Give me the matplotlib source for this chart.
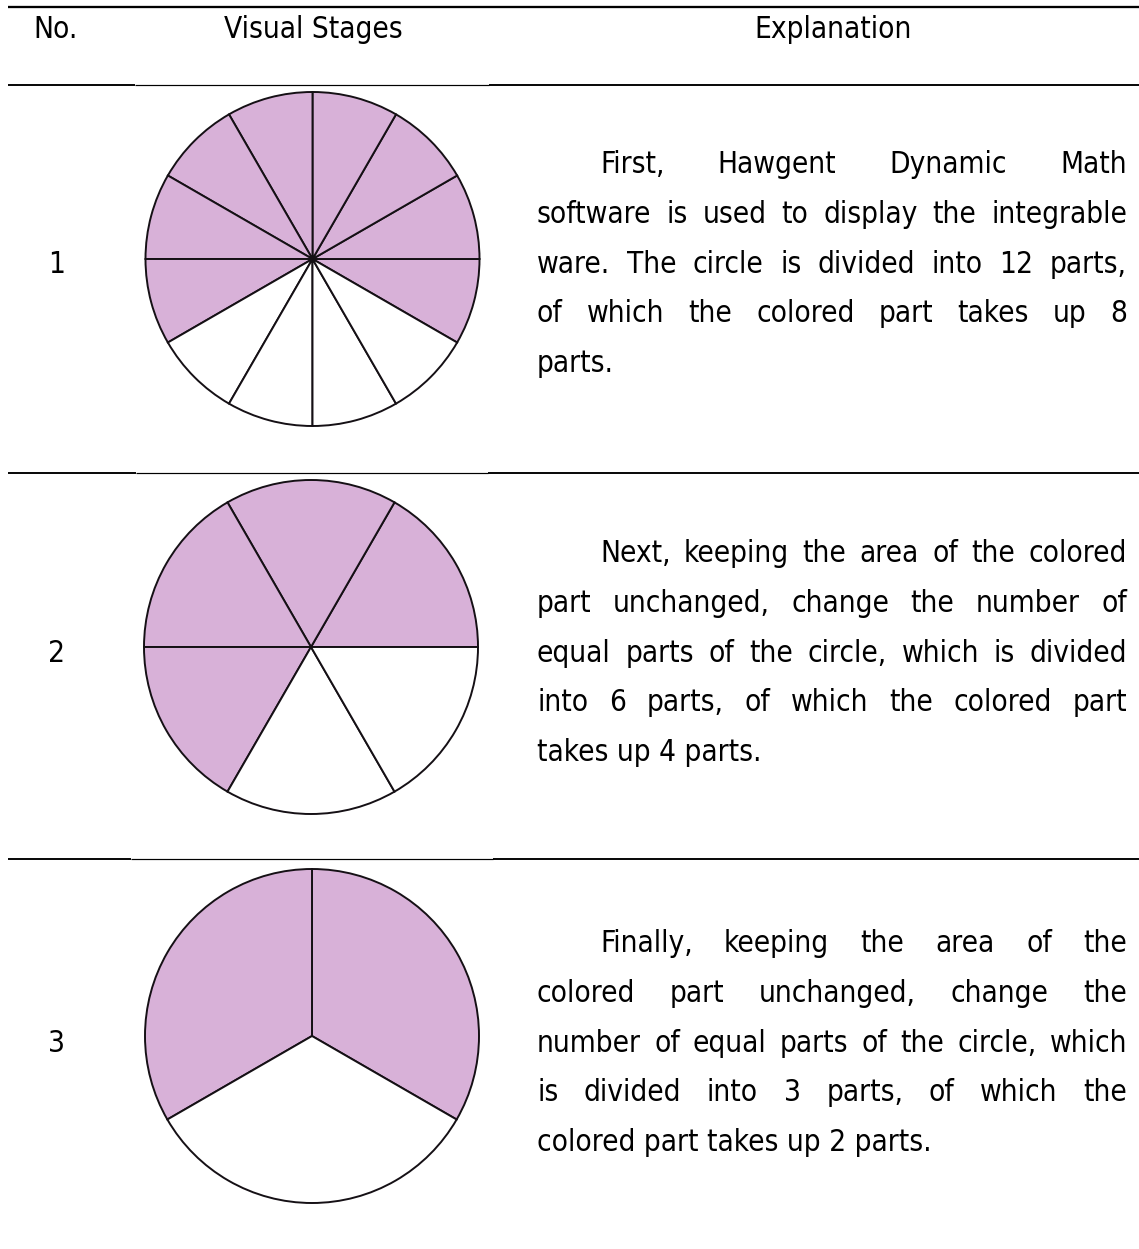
import matplotlib
matplotlib.use("Agg")
import matplotlib.pyplot as plt
from matplotlib import font_manager as fm

# ---------------- data ----------------
headers = ["No.", "Visual Stages", "Explanation"]
row_numbers = ["1", "2", "3"]
parts_total = [12, 6, 3]
parts_colored = [8, 4, 2]
start_angles = [-30, 0, -30]
explanations = [
    ["First,  Hawgent  Dynamic  Math",
     "software is used to display the integrable",
     "ware. The circle is divided into 12 parts,",
     "of which the colored part takes up 8",
     "parts."],
    ["Next, keeping the area of the colored",
     "part unchanged, change the number of",
     "equal parts of the circle, which is divided",
     "into 6 parts, of which the colored part",
     "takes up 4 parts."],
    ["Finally, keeping the area of the",
     "colored part unchanged, change the",
     "number of equal parts of the circle, which",
     "is divided into 3 parts, of which the",
     "colored part takes up 2 parts."],
]

# ---------------- style / layout ----------------
W, H, DPI = 1139, 1249, 100
PURPLE = "#d8b1d8"
EDGE = "#151015"
PX = 72.0 / DPI

def pick_family():
    try:
        f = fm.findfont(fm.FontProperties(family="DejaVu Sans", stretch="condensed"),
                        fallback_to_default=False)
        if "Condensed" in f:
            return dict(family="DejaVu Sans", stretch="condensed")
    except Exception:
        pass
    return dict(family="Noto Sans")

FAM = pick_family()

fig = plt.figure(figsize=(W / DPI, H / DPI), dpi=DPI)
fig.patch.set_facecolor("white")
ax = fig.add_axes([0, 0, 1, 1])
ax.set_xlim(0, W)
ax.set_ylim(H, 0)
ax.axis("off")

renderer = fig.canvas.get_renderer()

def fprops(size, weight="normal"):
    return fm.FontProperties(size=size, weight=weight, **FAM)

def tw(s, fp):
    w, h, d = renderer.get_text_width_height_descent(s, fp, ismath=False)
    return w

x_left, x_right, x_indent = 537, 1127, 600
line_gap = 49.8
row_first_baseline = [173, 562, 952]
circle_centers = [(312.5, 259), (311, 647), (312, 1036)]
R = 167

# font size: target cap height ~21.5 px, shrink if justified lines don't fit
fs = 21.3
for _ in range(3):
    fp = fprops(fs)
    worst = 0
    for lines in explanations:
        for i, ln in enumerate(lines[:-1]):
            avail = x_right - (x_indent if i == 0 else x_left)
            nat = tw(" ".join(ln.split()), fp)
            worst = max(worst, nat / avail)
    if worst > 0.985:
        fs *= 0.985 / worst
    else:
        break
fp = fprops(fs)

# ---------------- rules ----------------
ax.plot([8, W], [6.5, 6.5], color="black", lw=2.3 * PX, solid_capstyle="butt")
for y, (a, b) in zip([85, 473, 859], [(135, 489), (136, 488), (131, 493)]):
    ax.plot([8, a], [y, y], color="black", lw=1.9 * PX, solid_capstyle="butt")
    ax.plot([a, b], [y, y], color="black", lw=1.2 * PX, solid_capstyle="butt")
    ax.plot([b, W], [y, y], color="black", lw=1.9 * PX, solid_capstyle="butt")

# ---------------- headers ----------------
ax.text(33, 38, headers[0], fontproperties=fp, ha="left", va="baseline")
ax.text(313.5, 38, headers[1], fontproperties=fp, ha="center", va="baseline")
ax.text(833, 38, headers[2], fontproperties=fp, ha="center", va="baseline")

# ---------------- rows ----------------
for r in range(3):
    base = row_first_baseline[r]
    lines = explanations[r]
    # row number
    ax.text(57, base + 2 * line_gap, row_numbers[r], fontproperties=fp,
            ha="center", va="baseline")
    # justified explanation
    for i, ln in enumerate(lines):
        y = base + i * line_gap
        x0 = x_indent if i == 0 else x_left
        words = ln.split()
        if i == len(lines) - 1 or len(words) == 1:
            ax.text(x0, y, " ".join(words), fontproperties=fp, ha="left", va="baseline")
            continue
        widths = [tw(w, fp) for w in words]
        gap = (x_right - x0 - sum(widths)) / (len(words) - 1)
        x = x0
        for w, wd in zip(words, widths):
            ax.text(x, y, w, fontproperties=fp, ha="left", va="baseline")
            x += wd + gap

    # pie
    cx, cy = circle_centers[r]
    m = 1.03
    side = 2 * R * m
    pax = fig.add_axes([(cx - side / 2) / W, 1 - (cy + side / 2) / H, side / W, side / H])
    n, k = parts_total[r], parts_colored[r]
    cols = [PURPLE if i < k else "white" for i in range(n)]
    pax.pie([1] * n, colors=cols, startangle=start_angles[r], counterclock=True,
            wedgeprops=dict(edgecolor=EDGE, linewidth=1.4))
    pax.set_xlim(-m, m)
    pax.set_ylim(-m, m)
    pax.set_aspect("equal")
    pax.axis("off")

fig.savefig("out.png", dpi=DPI, facecolor="white")
